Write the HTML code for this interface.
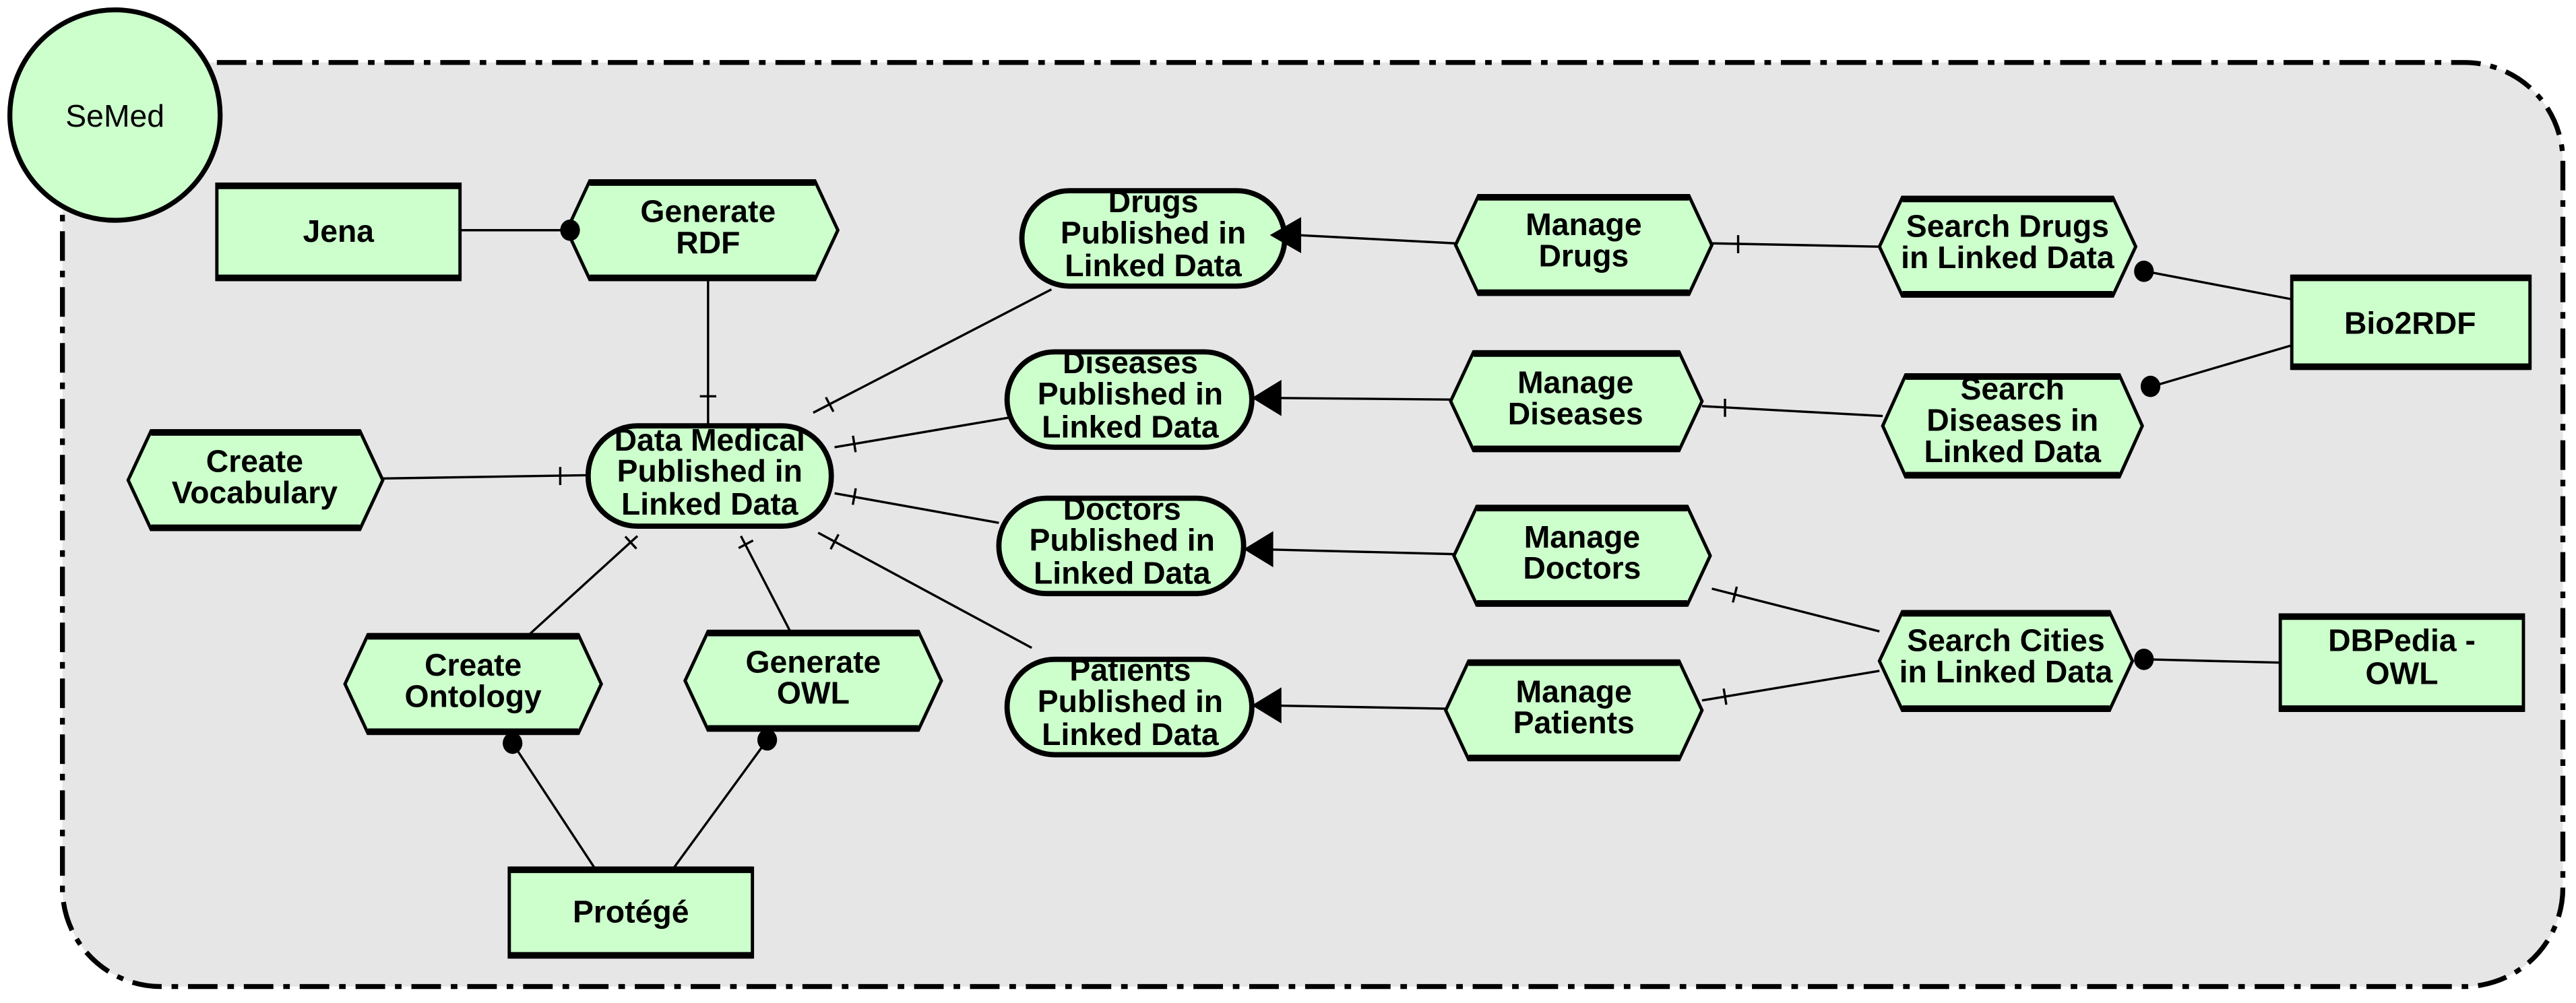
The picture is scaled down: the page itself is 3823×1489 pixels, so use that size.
<!DOCTYPE html>
<html><head><meta charset="utf-8"><style>
html,body{margin:0;padding:0;background:#fff;}
svg{display:block;}
text{font-family:"Liberation Sans",Arial,sans-serif;font-weight:bold;font-size:19px;fill:#000;text-anchor:middle;}
</style></head><body>
<svg width="3823" height="1489" viewBox="0 0 1568 610" preserveAspectRatio="none" xmlns="http://www.w3.org/2000/svg">
<rect x="38" y="38" width="1522" height="562" rx="60" ry="60" fill="#e6e6e6" stroke="#000" stroke-width="3" stroke-dasharray="18 6 4 6"/>
<circle cx="70" cy="70" r="64" fill="#ccffcc" stroke="#000" stroke-width="3"/>
<text x="70" y="77" style="font-weight:normal;font-size:19px">SeMed</text>

<g stroke="#000" stroke-width="1.4" fill="none">
<line x1="280" y1="140" x2="345" y2="140"/>
<line x1="431" y1="170" x2="431" y2="258"/><line x1="426" y1="241" x2="436" y2="241"/>
<line x1="233" y1="291" x2="358" y2="289"/><line x1="341" y1="284" x2="341" y2="295"/>
<line x1="495" y1="251" x2="640" y2="176"/><line x1="502.7" y1="241.6" x2="507.3" y2="250.4"/>
<line x1="508" y1="272" x2="614" y2="254"/><line x1="519.2" y1="265" x2="520.8" y2="275"/>
<line x1="508" y1="300" x2="608" y2="318"/><line x1="520.9" y1="297" x2="519.1" y2="307"/>
<line x1="498" y1="324" x2="628" y2="394"/><line x1="510.4" y1="325" x2="505.6" y2="334"/>
<line x1="388" y1="326" x2="322" y2="386"/><line x1="380.6" y1="326.3" x2="387.4" y2="333.7"/>
<line x1="451" y1="326" x2="481" y2="384"/><line x1="449.6" y1="333.3" x2="458.4" y2="328.7"/>
<line x1="362" y1="528" x2="312" y2="452"/>
<line x1="410" y1="528" x2="467" y2="450"/>
<line x1="886" y1="148" x2="790" y2="143"/>
<line x1="883" y1="243" x2="770" y2="242"/>
<line x1="885" y1="337" x2="765" y2="334"/>
<line x1="880" y1="431" x2="770" y2="429"/>
<line x1="1042" y1="148" x2="1144" y2="150"/><line x1="1058" y1="143" x2="1058" y2="154"/>
<line x1="1036" y1="247" x2="1146" y2="253"/><line x1="1050" y1="242.5" x2="1050" y2="253.5"/>
<line x1="1042" y1="358" x2="1144" y2="384"/><line x1="1057.2" y1="356.8" x2="1054.8" y2="366.4"/>
<line x1="1036" y1="426" x2="1144" y2="408"/><line x1="1049.2" y1="418.8" x2="1050.8" y2="428.6"/>
<line x1="1395" y1="182" x2="1306" y2="165"/>
<line x1="1395" y1="210" x2="1310" y2="235"/>
<line x1="1388" y1="403" x2="1306" y2="401"/>
</g>

<g fill="#ccffcc" stroke="#000" stroke-width="2">
<rect x="132" y="112" width="148" height="58"/>
<rect x="310" y="528" width="148" height="54"/>
<rect x="1395" y="168" width="145" height="56"/>
<rect x="1388" y="374" width="148" height="58"/>
<polygon points="345,140 359,110 496,110 510,140 496,170 359,170"/>
<polygon points="78,292 92,262 219,262 233,292 219,322 92,322"/>
<polygon points="210,416 224,386 352,386 366,416 352,446 224,446"/>
<polygon points="417,414 431,384 559,384 573,414 559,444 431,444"/>
<polygon points="886,149 900,119 1028,119 1042,149 1028,179 900,179"/>
<polygon points="883,244 897,214 1022,214 1036,244 1022,274 897,274"/>
<polygon points="885,338 899,308 1027,308 1041,338 1027,368 899,368"/>
<polygon points="880,432 894,402 1022,402 1036,432 1022,462 894,462"/>
<polygon points="1144,150 1158,120 1286,120 1300,150 1286,180 1158,180"/>
<polygon points="1146,259 1160,228 1290,228 1304,259 1290,290 1160,290"/>
<polygon points="1144,402 1158,372 1284,372 1298,402 1284,432 1158,432"/>
</g>
<g fill="#ccffcc" stroke="#000" stroke-width="3.2">
<rect x="358" y="259" width="148" height="61" rx="30" ry="30"/>
<rect x="622" y="116" width="160" height="58" rx="29" ry="29"/>
<rect x="613" y="214" width="149" height="58" rx="29" ry="29"/>
<rect x="608" y="303" width="149" height="58" rx="29" ry="29"/>
<rect x="613" y="401" width="149" height="58" rx="29" ry="29"/>
</g>
<g stroke="#000" stroke-width="4">
<line x1="132" y1="113" x2="280" y2="113"/><line x1="132" y1="169" x2="280" y2="169"/>
<line x1="310" y1="529" x2="458" y2="529"/><line x1="310" y1="581" x2="458" y2="581"/>
<line x1="1395" y1="169" x2="1540" y2="169"/><line x1="1395" y1="223" x2="1540" y2="223"/>
<line x1="1388" y1="375" x2="1536" y2="375"/><line x1="1388" y1="431" x2="1536" y2="431"/>
<line x1="359" y1="111" x2="496" y2="111"/><line x1="359" y1="169" x2="496" y2="169"/>
<line x1="92" y1="263" x2="219" y2="263"/><line x1="92" y1="321" x2="219" y2="321"/>
<line x1="224" y1="387" x2="352" y2="387"/><line x1="224" y1="445" x2="352" y2="445"/>
<line x1="431" y1="385" x2="559" y2="385"/><line x1="431" y1="443" x2="559" y2="443"/>
<line x1="900" y1="120" x2="1028" y2="120"/><line x1="900" y1="178" x2="1028" y2="178"/>
<line x1="897" y1="215" x2="1022" y2="215"/><line x1="897" y1="273" x2="1022" y2="273"/>
<line x1="899" y1="309" x2="1027" y2="309"/><line x1="899" y1="367" x2="1027" y2="367"/>
<line x1="894" y1="403" x2="1022" y2="403"/><line x1="894" y1="461" x2="1022" y2="461"/>
<line x1="1158" y1="121" x2="1286" y2="121"/><line x1="1158" y1="179" x2="1286" y2="179"/>
<line x1="1160" y1="229" x2="1290" y2="229"/><line x1="1160" y1="289" x2="1290" y2="289"/>
<line x1="1158" y1="373" x2="1284" y2="373"/><line x1="1158" y1="431" x2="1284" y2="431"/>
</g>
<g fill="#000">
<ellipse cx="347" cy="140" rx="6" ry="6.5"/>
<ellipse cx="312" cy="452" rx="6" ry="6.5"/>
<ellipse cx="467" cy="450" rx="6" ry="6.5"/>
<ellipse cx="1305" cy="165" rx="6" ry="6.5"/>
<ellipse cx="1309" cy="235" rx="6" ry="6.5"/>
<ellipse cx="1305" cy="401" rx="6" ry="6.5"/>
<polygon points="773,143 792,132 792,154"/>
<polygon points="762,242 780,231 780,253"/>
<polygon points="757,334 775,323 775,345"/>
<polygon points="762,429 780,418 780,440"/>
</g>

<text x="206" y="147">Jena</text>
<text x="384" y="561">Protégé</text>
<text x="1467" y="203">Bio2RDF</text>
<text x="1462" y="396">DBPedia -</text><text x="1462" y="416">OWL</text>
<text x="431" y="135">Generate</text><text x="431" y="154">RDF</text>
<text x="155" y="287">Create</text><text x="155" y="306">Vocabulary</text>
<text x="288" y="411">Create</text><text x="288" y="430">Ontology</text>
<text x="495" y="409">Generate</text><text x="495" y="428">OWL</text>
<text x="964" y="143">Manage</text><text x="964" y="162">Drugs</text>
<text x="959" y="239">Manage</text><text x="959" y="258">Diseases</text>
<text x="963" y="333">Manage</text><text x="963" y="352">Doctors</text>
<text x="958" y="427">Manage</text><text x="958" y="446">Patients</text>
<text x="1222" y="144">Search Drugs</text><text x="1222" y="163">in Linked Data</text>
<text x="1225" y="243">Search</text><text x="1225" y="262">Diseases in</text><text x="1225" y="281">Linked Data</text>
<text x="1221" y="396">Search Cities</text><text x="1221" y="415">in Linked Data</text>
<text x="432" y="274">Data Medical</text><text x="432" y="293">Published in</text><text x="432" y="313">Linked Data</text>
<text x="702" y="129">Drugs</text><text x="702" y="148">Published in</text><text x="702" y="168">Linked Data</text>
<text x="688" y="227">Diseases</text><text x="688" y="246">Published in</text><text x="688" y="266">Linked Data</text>
<text x="683" y="316">Doctors</text><text x="683" y="335">Published in</text><text x="683" y="355">Linked Data</text>
<text x="688" y="414">Patients</text><text x="688" y="433">Published in</text><text x="688" y="453">Linked Data</text>
</svg>
</body></html>
